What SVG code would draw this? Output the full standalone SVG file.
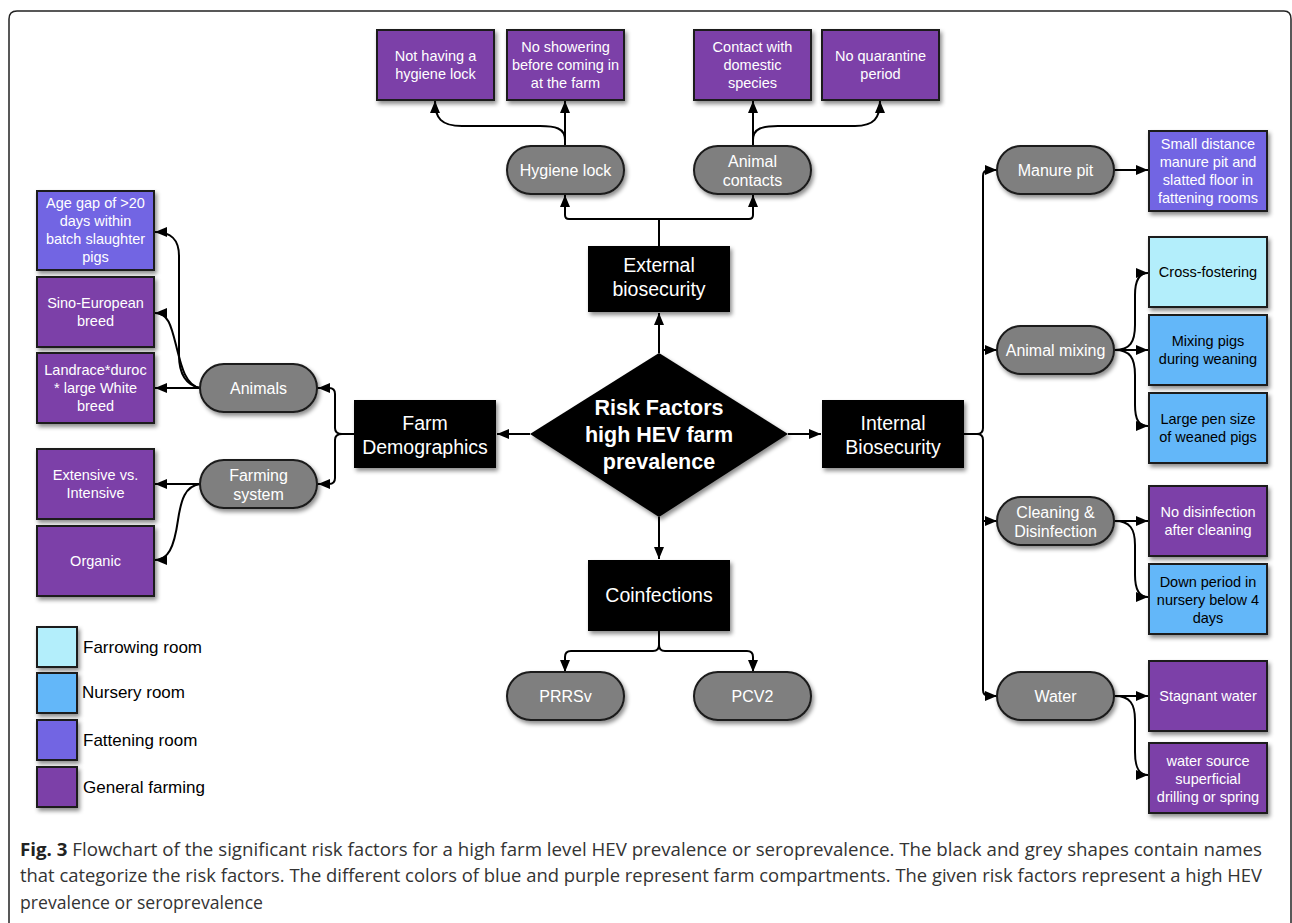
<svg xmlns="http://www.w3.org/2000/svg" width="1292" height="923" viewBox="0 0 1292 923">
<defs>
<filter id="sh" x="-20%" y="-20%" width="140%" height="150%">
<feDropShadow dx="2" dy="3" stdDeviation="2" flood-color="#000" flood-opacity="0.45"/>
</filter>
<marker id="ah" viewBox="0 0 12 10" refX="12" refY="5" markerWidth="12" markerHeight="10" markerUnits="userSpaceOnUse" orient="auto">
<path d="M0,0 L12,5 L0,10 z" fill="#000"/>
</marker>
</defs>
<style>
text{font-family:"Liberation Sans",Arial,sans-serif;text-anchor:middle;dominant-baseline:central}
.box{stroke:#1a1a1a;stroke-width:2;filter:url(#sh)}
.gen{fill:#7B40A8}
.fat{fill:#7265E3}
.nur{fill:#63B7F9}
.far{fill:#B3EEFB}
.pill{fill:#7F7F7F;stroke:#1a1a1a;stroke-width:2;filter:url(#sh)}
.blk{fill:#000;filter:url(#sh)}
.tw{fill:#fff;font-size:14.5px}
.tb{fill:#000;font-size:14.5px}
.tp{fill:#fff;font-size:16px}
.tk{fill:#fff;font-size:19.5px}
.td{fill:#fff;font-size:21.5px;font-weight:bold}
.lg{fill:#000;font-size:17px;text-anchor:start}
.cap{font-family:"Open Sans","Liberation Sans",sans-serif;font-size:17.5px;fill:#333;text-anchor:start;dominant-baseline:auto}
#connectors path{fill:none;stroke:#000;stroke-width:2}
</style>
<rect width="1292" height="923" fill="#fff"/>
<path d="M9,923 V19 Q9,11 17,11 H1284 Q1291,11 1291,19 V923" fill="none" stroke="#222" stroke-width="1.5"/>

<g id="connectors">
<path d="M659,353 V313" marker-end="url(#ah)"/>
<path d="M659,246 V219 H569 Q565,219 565,215 V195" marker-end="url(#ah)"/>
<path d="M659,219 H749 Q753,219 753,215 V195" marker-end="url(#ah)"/>
<path d="M565,146 V101" marker-end="url(#ah)"/>
<path d="M565,146 V140 C565,128 555,126 540,126 H462 C441,126 435,118 435,101" marker-end="url(#ah)"/>
<path d="M753,146 V101" marker-end="url(#ah)"/>
<path d="M753,146 V140 C753,128 763,126 778,126 H855 C874,126 880,118 880,101" marker-end="url(#ah)"/>
<path d="M530,434 H497" marker-end="url(#ah)"/>
<path d="M354,434 H342 Q335,434 335,428 V394 Q335,388 329,388 H318" marker-end="url(#ah)"/>
<path d="M354,434 H342 Q335,434 335,440 V478 Q335,484 329,484 H318" marker-end="url(#ah)"/>
<path d="M200,388 H155" marker-end="url(#ah)"/>
<path d="M200,388 C186,385 179,375 179,355 V256 C179,240 172,232 155,232" marker-end="url(#ah)"/>
<path d="M200,388 C185,385 181,365 176,345 C171,325 168,313 155,313" marker-end="url(#ah)"/>
<path d="M200,484 H155" marker-end="url(#ah)"/>
<path d="M200,484 C185,486 181,500 178,520 C174,548 168,560 155,560" marker-end="url(#ah)"/>
<path d="M788,434 H821" marker-end="url(#ah)"/>
<path d="M964,434 H977 Q983,434 983,428 V176 Q983,170 989,170 H997" marker-end="url(#ah)"/>
<path d="M964,434 H977 Q983,434 983,440 V690 Q983,696 989,696 H997" marker-end="url(#ah)"/>
<path d="M983,350 H997" marker-end="url(#ah)"/>
<path d="M983,521 H997" marker-end="url(#ah)"/>
<path d="M1115,170 H1148" marker-end="url(#ah)"/>
<path d="M1115,350 H1148" marker-end="url(#ah)"/>
<path d="M1115,350 C1130,350 1135,342 1135,325 V295 C1135,280 1139,273 1148,273" marker-end="url(#ah)"/>
<path d="M1115,350 C1130,350 1135,358 1135,375 V405 C1135,420 1139,426 1148,426" marker-end="url(#ah)"/>
<path d="M1115,521 H1148" marker-end="url(#ah)"/>
<path d="M1115,521 C1130,521 1135,529 1135,545 V575 C1135,590 1139,597 1148,597" marker-end="url(#ah)"/>
<path d="M1115,696 H1148" marker-end="url(#ah)"/>
<path d="M1115,696 C1130,696 1135,704 1135,720 V752 C1135,768 1139,775 1148,775" marker-end="url(#ah)"/>
<path d="M659,517 V559" marker-end="url(#ah)"/>
<path d="M659,631 V645 Q659,651 653,651 H571 Q565,651 565,657 V672" marker-end="url(#ah)"/>
<path d="M659,631 V645 Q659,651 665,651 H747 Q753,651 753,657 V672" marker-end="url(#ah)"/>
</g>

<g id="n-risk"><polygon class="blk" points="659,353 788,434 659,517 530,434"/>
<text class="td" x="659" y="408">Risk Factors</text><text class="td" x="659" y="435">high HEV farm</text><text class="td" x="659" y="462">prevalence</text></g>

<g id="n-external"><rect class="blk" x="588" y="246" width="142" height="66"/>
<text class="tk" x="659" y="265">External</text><text class="tk" x="659" y="289">biosecurity</text></g>
<g id="n-farmdemo"><rect class="blk" x="354" y="400" width="142" height="68"/>
<text class="tk" x="425" y="423">Farm</text><text class="tk" x="425" y="447">Demographics</text></g>
<g id="n-internal"><rect class="blk" x="822" y="400" width="142" height="68"/>
<text class="tk" x="893" y="423">Internal</text><text class="tk" x="893" y="447">Biosecurity</text></g>
<g id="n-coinf"><rect class="blk" x="588" y="560" width="142" height="71"/>
<text class="tk" x="659" y="595">Coinfections</text></g>

<g id="n-hygiene"><rect class="pill" x="507" y="146" width="117" height="48" rx="24"/><text class="tp" x="565.5" y="170">Hygiene lock</text></g>
<g id="n-animalcontacts"><rect class="pill" x="694" y="146" width="117" height="48" rx="24"/><text class="tp" x="752.5" y="161">Animal</text><text class="tp" x="752.5" y="180">contacts</text></g>
<g id="n-animals"><rect class="pill" x="200" y="364" width="117" height="48" rx="24"/><text class="tp" x="258.5" y="388">Animals</text></g>
<g id="n-farmingsystem"><rect class="pill" x="200" y="460" width="117" height="48" rx="24"/><text class="tp" x="258.5" y="475">Farming</text><text class="tp" x="258.5" y="494">system</text></g>
<g id="n-manure"><rect class="pill" x="997" y="146" width="117" height="48" rx="24"/><text class="tp" x="1055.5" y="170">Manure pit</text></g>
<g id="n-mixing"><rect class="pill" x="997" y="326" width="117" height="48" rx="24"/><text class="tp" x="1055.5" y="350">Animal mixing</text></g>
<g id="n-cleaning"><rect class="pill" x="997" y="497" width="117" height="48" rx="24"/><text class="tp" x="1055.5" y="512">Cleaning &amp;</text><text class="tp" x="1055.5" y="531">Disinfection</text></g>
<g id="n-water"><rect class="pill" x="997" y="672" width="117" height="48" rx="24"/><text class="tp" x="1055.5" y="696">Water</text></g>
<g id="n-prrsv"><rect class="pill" x="507" y="672" width="117" height="48" rx="24"/><text class="tp" x="565.5" y="696">PRRSv</text></g>
<g id="n-pcv2"><rect class="pill" x="694" y="672" width="117" height="48" rx="24"/><text class="tp" x="752.5" y="696">PCV2</text></g>

<g id="n-nolock"><rect class="box gen" x="377" y="30" width="117" height="70"/><text class="tw" x="435.5" y="56">Not having a</text><text class="tw" x="435.5" y="74">hygiene lock</text></g>
<g id="n-noshower"><rect class="box gen" x="507" y="30" width="117" height="70"/><text class="tw" x="565.5" y="47">No showering</text><text class="tw" x="565.5" y="65">before coming in</text><text class="tw" x="565.5" y="83">at the farm</text></g>
<g id="n-contact"><rect class="box gen" x="694" y="30" width="117" height="70"/><text class="tw" x="752.5" y="47">Contact with</text><text class="tw" x="752.5" y="65">domestic</text><text class="tw" x="752.5" y="83">species</text></g>
<g id="n-quarantine"><rect class="box gen" x="822" y="30" width="117" height="70"/><text class="tw" x="880.5" y="56">No quarantine</text><text class="tw" x="880.5" y="74">period</text></g>

<g id="n-agegap"><rect class="box fat" x="37" y="191" width="117" height="79"/><text class="tw" x="95.5" y="203">Age gap of &gt;20</text><text class="tw" x="95.5" y="221">days within</text><text class="tw" x="95.5" y="239">batch slaughter</text><text class="tw" x="95.5" y="257">pigs</text></g>
<g id="n-sino"><rect class="box gen" x="37" y="277" width="117" height="70"/><text class="tw" x="95.5" y="303">Sino-European</text><text class="tw" x="95.5" y="321">breed</text></g>
<g id="n-landrace"><rect class="box gen" x="37" y="353" width="117" height="70"/><text class="tw" x="95.5" y="370">Landrace*duroc</text><text class="tw" x="95.5" y="388">* large White</text><text class="tw" x="95.5" y="406">breed</text></g>
<g id="n-extensive"><rect class="box gen" x="37" y="449" width="117" height="70"/><text class="tw" x="95.5" y="475">Extensive vs.</text><text class="tw" x="95.5" y="493">Intensive</text></g>
<g id="n-organic"><rect class="box gen" x="37" y="526" width="117" height="70"/><text class="tw" x="95.5" y="561">Organic</text></g>

<g id="n-smalldist"><rect class="box fat" x="1149" y="131" width="118" height="80"/><text class="tw" x="1208" y="144">Small distance</text><text class="tw" x="1208" y="162">manure pit and</text><text class="tw" x="1208" y="180">slatted floor in</text><text class="tw" x="1208" y="198">fattening rooms</text></g>
<g id="n-crossfost"><rect class="box far" x="1149" y="237" width="118" height="70"/><text class="tb" x="1208" y="272">Cross-fostering</text></g>
<g id="n-mixpigs"><rect class="box nur" x="1149" y="315" width="118" height="70"/><text class="tb" x="1208" y="341">Mixing pigs</text><text class="tb" x="1208" y="359">during weaning</text></g>
<g id="n-largepen"><rect class="box nur" x="1149" y="393" width="118" height="70"/><text class="tb" x="1208" y="419">Large pen size</text><text class="tb" x="1208" y="437">of weaned pigs</text></g>
<g id="n-nodisinf"><rect class="box gen" x="1149" y="486" width="118" height="70"/><text class="tw" x="1208" y="512">No disinfection</text><text class="tw" x="1208" y="530">after cleaning</text></g>
<g id="n-downperiod"><rect class="box nur" x="1149" y="564" width="118" height="70"/><text class="tb" x="1208" y="582">Down period in</text><text class="tb" x="1208" y="600">nursery below 4</text><text class="tb" x="1208" y="618">days</text></g>
<g id="n-stagnant"><rect class="box gen" x="1149" y="661" width="118" height="70"/><text class="tw" x="1208" y="696">Stagnant water</text></g>
<g id="n-watersource"><rect class="box gen" x="1149" y="743" width="118" height="70"/><text class="tw" x="1208" y="761">water source</text><text class="tw" x="1208" y="779">superficial</text><text class="tw" x="1208" y="797">drilling or spring</text></g>

<g id="legend">
<rect class="box far" x="37" y="627" width="40" height="40"/><text class="lg" x="83" y="647">Farrowing room</text>
<rect class="box nur" x="37" y="673" width="40" height="40"/><text class="lg" x="82" y="692">Nursery room</text>
<rect class="box fat" x="37" y="720" width="40" height="40"/><text class="lg" x="83" y="740">Fattening room</text>
<rect class="box gen" x="37" y="767" width="40" height="40"/><text class="lg" x="83" y="787">General farming</text>
</g>

<g id="caption">
<text class="cap" x="20" y="856" textLength="1242" lengthAdjust="spacingAndGlyphs"><tspan font-weight="bold" fill="#222">Fig. 3</tspan> Flowchart of the significant risk factors for a high farm level HEV prevalence or seroprevalence. The black and grey shapes contain names</text>
<text class="cap" x="20" y="882" textLength="1242" lengthAdjust="spacingAndGlyphs">that categorize the risk factors. The different colors of blue and purple represent farm compartments. The given risk factors represent a high HEV</text>
<text class="cap" x="20" y="909" textLength="243" lengthAdjust="spacingAndGlyphs">prevalence or seroprevalence</text>
</g>
</svg>
